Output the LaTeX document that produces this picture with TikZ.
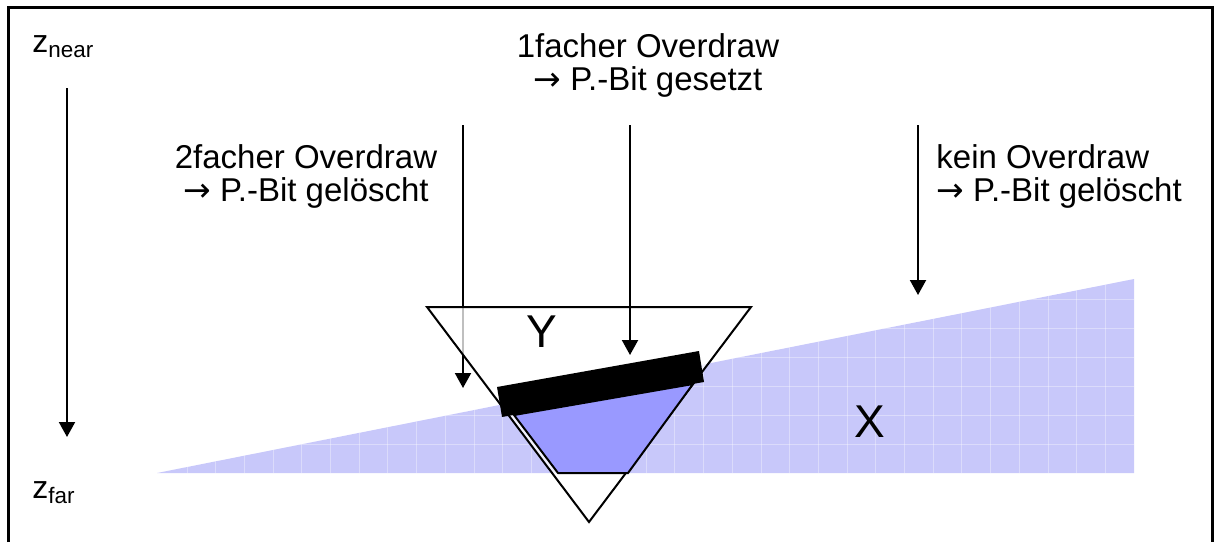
\documentclass[tikz,border=0pt]{standalone}
\usepackage{fontspec}
\setmainfont{Liberation Sans}
\newfontfamily\arrowfont{DejaVu Sans}
\newcommand{\pto}{{\arrowfont →}}
\usetikzlibrary{arrows.meta}
\definecolor{wedgeblue}{RGB}{200,200,250}
\definecolor{trapblue}{RGB}{153,153,255}
\begin{document}
\begin{tikzpicture}[x=0.5pt, y=-0.5pt,
        lbl/.style={font=\fontsize{16.5}{16.5}\selectfont, inner sep=0pt},
        big/.style={font=\fontsize{23}{26}\selectfont, inner sep=0pt},
        zlbl/.style={font=\fontsize{16}{18}\selectfont, inner sep=0pt, anchor=base west},
        arr/.style={-{Triangle[length=7.5pt,width=8pt]}, line width=1pt},
        edge/.style={line width=1pt, line join=miter}
    ]
    \useasboundingbox (0,0) rectangle (1216,542);
    \draw[line width=1.5pt] (8,542) -- (8,7) -- (1212,7) -- (1212,542);

    % surface X with its grid
    \fill[wedgeblue] (157,473) -- (1134,279) -- (1134,473) -- cycle;
    \begin{scope}
        \clip (157,473) -- (1134,279) -- (1134,473) -- cycle;
        \foreach \gx in {0,...,34} \draw[white, opacity=0.35, line width=0.4pt] (1105.3-28.7*\gx,270) -- (1105.3-28.7*\gx,473);
        \foreach \gy in {0,...,5} \draw[white, opacity=0.35, line width=0.4pt] (150,299.3+29*\gy) -- (1134,299.3+29*\gy);
    \end{scope}

    \coordinate (s2) at (463,125);
    \coordinate (e2) at (463,388);
    \draw[arr] (s2) -- (e2);

    % triangle Y
    \coordinate (tl) at (427,307);
    \coordinate (tr) at (751,307);
    \coordinate (tb) at (589,522);
    \draw[edge, fill=white, fill opacity=0.75] (tl) -- (tr) -- (tb) -- cycle;
    \draw[edge, fill=trapblue] (514,415) -- (693,384) -- (628,473) -- (558,473) -- cycle;
    \fill[black] (497,387) -- (699,351) -- (704,382) -- (502,417) -- cycle;

    \coordinate (s1) at (630,125);
    \coordinate (e1) at (630,355);
    \draw[arr] (s1) -- (e1);
    \coordinate (s0) at (918,125);
    \coordinate (e0) at (918,295);
    \draw[arr] (s0) -- (e0);
    \coordinate (dn) at (67,88);
    \coordinate (df) at (67,437);
    \draw[arr] (dn) -- (df);

    \node[big] (ylbl) at (542,332) {Y};
    \node[big] (xlbl) at (870,422) {X};

    \node[zlbl] (znear) at (32,52) {z\textsubscript{near}};
    \node[zlbl] (zfar) at (32,498) {z\textsubscript{far}};

    \node[lbl, align=center, anchor=base] (twice) at (306,201) {2facher Overdraw\\ \pto{} P.-Bit gelöscht};
    \node[lbl, align=center, anchor=base] (once) at (648,90) {1facher Overdraw\\ \pto{} P.-Bit gesetzt};
    \node[lbl, align=left, anchor=base west] (none) at (936,201) {kein Overdraw\\\pto{} P.-Bit gelöscht};
\end{tikzpicture}
\end{document}
